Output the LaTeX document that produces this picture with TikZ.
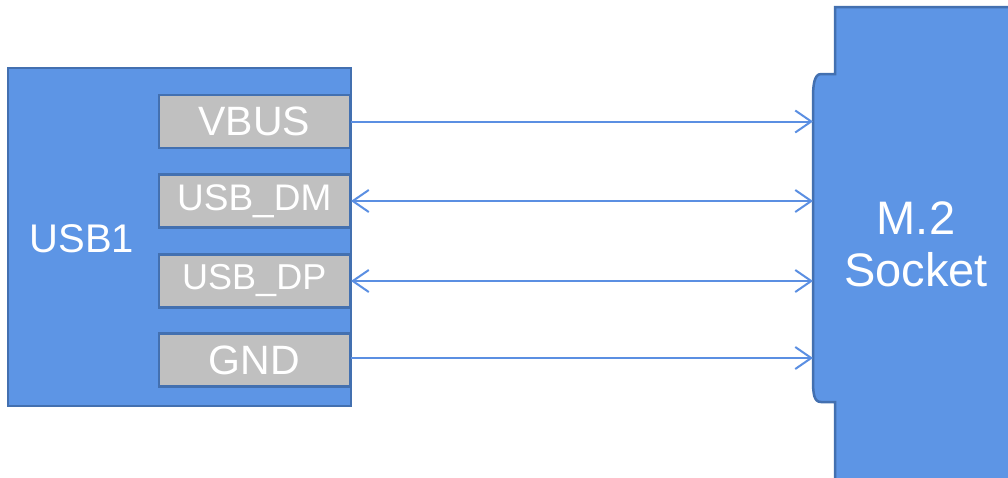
\documentclass[tikz,border=0pt]{standalone}
\usepackage{fontspec}
\setmainfont{Liberation Sans}
\usetikzlibrary{arrows.meta}
\definecolor{blockfill}{HTML}{5D95E5}
\definecolor{blockedge}{HTML}{4370B0}
\definecolor{pinfill}{HTML}{C0C0C0}
\definecolor{wire}{HTML}{5B8FE2}
\tikzset{
  block/.style={fill=blockfill, draw=blockedge, line width=2.5pt},
  pin/.style={fill=pinfill, draw=blockedge, line width=2.5pt, text=white,
    minimum width=191pt, minimum height=53pt, inner sep=0pt, anchor=east},
  label/.style={text=white, inner sep=0pt, align=center},
  wirearrow/.style={draw=wire, line width=2pt,
    arrows={-Straight Barb[length=16pt,width=22pt,line width=2pt]}},
  wirebi/.style={draw=wire, line width=2pt,
    arrows={Straight Barb[length=16pt,width=22pt,line width=2pt]-Straight Barb[length=16pt,width=22pt,line width=2pt]}},
}
\begin{document}
\begin{tikzpicture}[x=1pt,y=-1pt]
\useasboundingbox (0,0) rectangle (1008,477);

% USB connector block
\draw[block] (8,68) rectangle (351,406);
\node[label, font=\fontsize{40}{40}\selectfont] (usb) at (82,239) {USB1};

% pins
\node[pin, font=\fontsize{41}{41}\selectfont] (vbus) at (351,121.5) {VBUS};
\node[pin, font=\fontsize{37}{37}\selectfont] (dm) at (351,201) {USB\_DM};
\node[pin, font=\fontsize{36}{36}\selectfont] (dp) at (351,281) {USB\_DP};
\node[pin, font=\fontsize{41}{41}\selectfont] (gnd) at (351,360) {GND};

% M.2 socket outline with notched left edge
\draw[block] (1015,7) -- (835,7) -- (835,74) -- (821,74)
  .. controls (814,74) and (813,86) .. (813,98)
  -- (813,380)
  .. controls (813,394) and (814,402) .. (821,402)
  -- (835,402) -- (835,485) -- (1015,485) -- cycle;
\node[label, font=\fontsize{47}{52}\selectfont] (m2) at (916,244) {M.2\\Socket};

% socket contact points
\coordinate (s1) at (813,121.5);
\coordinate (s2) at (813,201);
\coordinate (s3) at (813,281);
\coordinate (s4) at (813,358);

% signal connections
\draw[wirearrow] (vbus.east) -- (s1);
\draw[wirebi] (dm.east) -- (s2);
\draw[wirebi] (dp.east) -- (s3);
\draw[wirearrow] (gnd.east |- s4) -- (s4);
\end{tikzpicture}
\end{document}
